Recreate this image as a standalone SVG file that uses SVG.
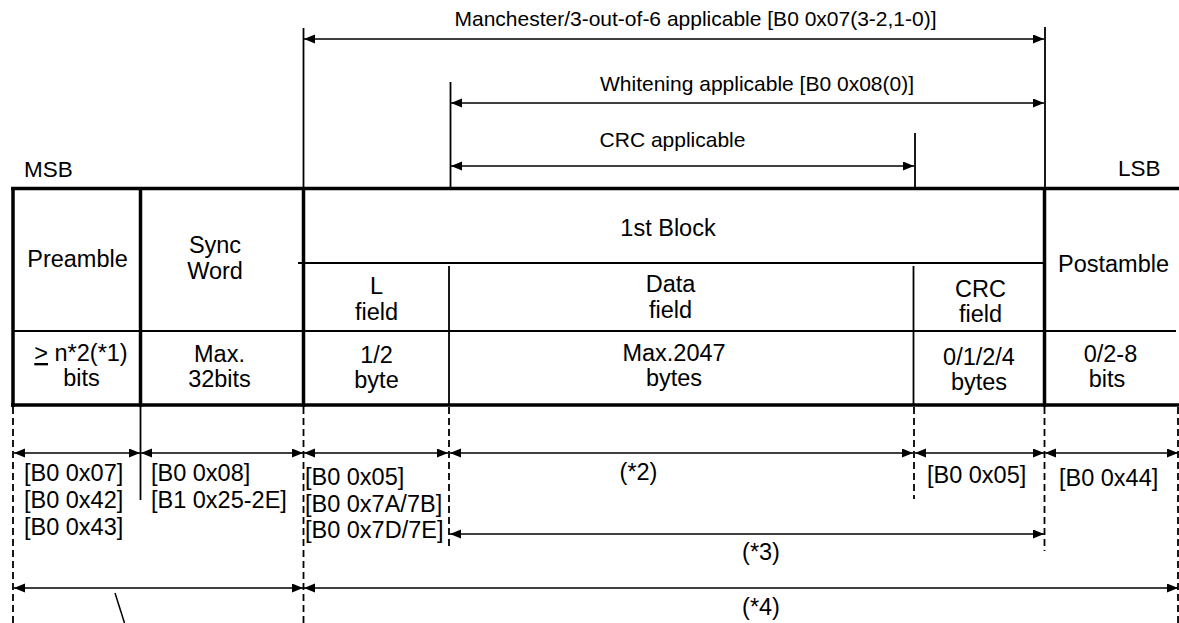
<svg xmlns="http://www.w3.org/2000/svg" width="1179" height="623" viewBox="0 0 1179 623">
<style>
text{font-family:"Liberation Sans",Arial,sans-serif;fill:#000}
.t{font-size:23.5px;text-anchor:middle}
.tl{font-size:23.5px}
.top{font-size:21px;text-anchor:middle}
.thick{stroke:#000;stroke-width:3.5;fill:none}
.thin{stroke:#000;stroke-width:1.8;fill:none}
.dash{stroke:#000;stroke-width:1.8;stroke-dasharray:7 4;fill:none}
.arr{stroke:#000;stroke-width:1.6;fill:none;marker-start:url(#ah);marker-end:url(#ah)}
</style>
<defs>
<marker id="ah" markerUnits="userSpaceOnUse" markerWidth="12" markerHeight="10" refX="11" refY="4.5" orient="auto-start-reverse">
<path d="M0,0 L11,4.5 L0,9 z" fill="#000"/>
</marker>
</defs>
<rect width="1179" height="623" fill="#fff"/>

<g id="frame">
<line class="thick" x1="11" y1="188.5" x2="1179" y2="188.5"/>
<line class="thick" x1="11" y1="405" x2="1179" y2="405"/>
<line class="thick" x1="13" y1="187" x2="13" y2="407"/>
<line class="thick" x1="140.5" y1="187" x2="140.5" y2="407"/>
<line class="thick" x1="303.5" y1="187" x2="303.5" y2="407"/>
<line class="thick" x1="1044.5" y1="187" x2="1044.5" y2="407"/>
<line class="thin" x1="13" y1="331" x2="1176" y2="331"/>
<line class="thin" x1="298" y1="263" x2="1044" y2="263"/>
<line class="thin" x1="449" y1="266" x2="449" y2="405"/>
<line class="thin" x1="913.5" y1="266" x2="913.5" y2="405"/>
</g>

<g id="msb"><text class="tl" x="24" y="177" style="font-size:22.5px">MSB</text></g>
<g id="lsb"><text class="tl" x="1118" y="176" style="font-size:22.5px">LSB</text></g>

<g id="preamble">
<text class="t" x="77.5" y="267">Preamble</text>
<text class="t" x="81" y="361"><tspan text-decoration="underline">&gt;</tspan> n*2(*1)</text>
<text class="t" x="81.5" y="386">bits</text>
</g>
<g id="syncword">
<text class="t" x="215" y="253">Sync</text>
<text class="t" x="215" y="279">Word</text>
<text class="t" x="219.5" y="362">Max.</text>
<text class="t" x="219.5" y="387">32bits</text>
</g>
<g id="block1">
<text class="t" x="668" y="236">1st Block</text>
</g>
<g id="lfield">
<text class="t" x="376.5" y="294">L</text>
<text class="t" x="376.5" y="320">field</text>
<text class="t" x="376.5" y="363">1/2</text>
<text class="t" x="376.5" y="388">byte</text>
</g>
<g id="datafield">
<text class="t" x="670.5" y="292">Data</text>
<text class="t" x="670.5" y="318">field</text>
<text class="t" x="674" y="361">Max.2047</text>
<text class="t" x="674" y="386">bytes</text>
</g>
<g id="crcfield">
<text class="t" x="980.5" y="297">CRC</text>
<text class="t" x="980.5" y="322">field</text>
<text class="t" x="979" y="365">0/1/2/4</text>
<text class="t" x="979" y="390">bytes</text>
</g>
<g id="postamble">
<text class="t" x="1113.5" y="272">Postamble</text>
<text class="t" x="1110.5" y="362">0/2-8</text>
<text class="t" x="1107" y="387">bits</text>
</g>

<g id="connectors">
<line class="thin" x1="303.5" y1="28" x2="303.5" y2="188"/>
<line class="thin" x1="1045" y1="27" x2="1045" y2="188"/>
<line class="thin" x1="450.5" y1="82" x2="450.5" y2="188"/>
<line class="thin" x1="915" y1="133" x2="915" y2="188"/>
<line class="arr" x1="304" y1="39" x2="1044" y2="39"/>
<line class="arr" x1="451" y1="103" x2="1044" y2="103"/>
<line class="arr" x1="451" y1="166" x2="914" y2="166"/>

<line class="dash" x1="13" y1="407" x2="13" y2="623"/>
<line class="thin" x1="140.5" y1="407" x2="140.5" y2="500"/>
<line class="dash" x1="303.5" y1="407" x2="303.5" y2="623"/>
<line class="dash" x1="449" y1="407" x2="449" y2="547"/>
<line class="dash" x1="914" y1="407" x2="914" y2="499"/>
<line class="dash" x1="1044.5" y1="407" x2="1044.5" y2="551"/>
<line class="dash" x1="1178" y1="407" x2="1178" y2="623"/>

<line class="arr" x1="14" y1="453" x2="140" y2="453"/>
<line class="arr" x1="141" y1="453" x2="303" y2="453"/>
<line class="arr" x1="304" y1="453" x2="448" y2="453"/>
<line class="arr" x1="450" y1="453" x2="913" y2="453"/>
<line class="arr" x1="915" y1="453" x2="1044" y2="453"/>
<line class="arr" x1="1045" y1="453" x2="1178" y2="453"/>
<line class="arr" x1="450" y1="534" x2="1044" y2="534"/>
<line class="arr" x1="14" y1="588" x2="303" y2="588"/>
<line class="arr" x1="304" y1="588" x2="1178" y2="588"/>
<line class="thin" x1="115" y1="593" x2="124.5" y2="623" style="stroke-width:1.5"/>
</g>

<g id="labels">
<text class="top" x="695.5" y="26">Manchester/3-out-of-6 applicable [B0 0x07(3-2,1-0)]</text>
<text class="top" x="757" y="91">Whitening applicable [B0 0x08(0)]</text>
<text class="top" x="672.5" y="147">CRC applicable</text>
<text class="tl" x="24" y="481">[B0 0x07]</text>
<text class="tl" x="24" y="508">[B0 0x42]</text>
<text class="tl" x="24" y="535">[B0 0x43]</text>
<text class="tl" x="151" y="481">[B0 0x08]</text>
<text class="tl" x="151" y="508">[B1 0x25-2E]</text>
<text class="tl" x="305" y="485">[B0 0x05]</text>
<text class="tl" x="305" y="512">[B0 0x7A/7B]</text>
<text class="tl" x="305" y="538">[B0 0x7D/7E]</text>
<text class="tl" x="927" y="483">[B0 0x05]</text>
<text class="tl" x="1059" y="486">[B0 0x44]</text>
<text class="t" x="638.5" y="480">(*2)</text>
<text class="t" x="761" y="560">(*3)</text>
<text class="t" x="761" y="615">(*4)</text>
</g>
</svg>
